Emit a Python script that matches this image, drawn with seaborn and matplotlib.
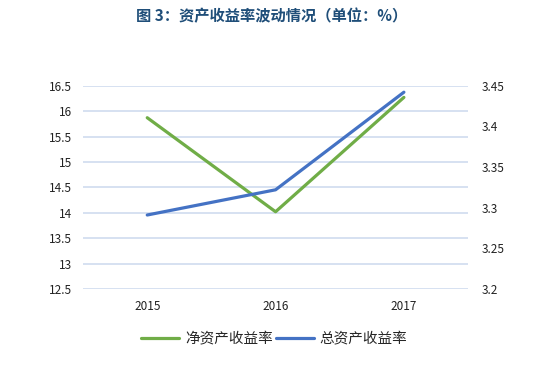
import pandas as pd
import seaborn as sns
import matplotlib.pyplot as plt
from matplotlib.lines import Line2D

# values
years = ['2015', '2016', '2017']
roe = [15.87, 14.02, 16.27]      # 净资产收益率 (left axis)
roa = [3.291, 3.322, 3.442]      # 总资产收益率 (right axis)

left_ticks = [12.5, 13, 13.5, 14, 14.5, 15, 15.5, 16, 16.5]
right_ticks = [3.2, 3.25, 3.3, 3.35, 3.4, 3.45]

sns.set_style('white')
plt.rcParams['font.family'] = ['Noto Sans CJK SC', 'DejaVu Sans']

df = pd.DataFrame({'year': years, 'roe': roe, 'roa': roa})
df['x'] = range(len(years))

green = '#70AD47'
blue = '#4472C4'
grid = '#D6E1F1'

fig = plt.figure(figsize=(5.43, 3.67), dpi=100)
ax = fig.add_axes([0.153, 0.2125, 0.709, 0.554])
ax2 = ax.twinx()

sns.lineplot(data=df, x='x', y='roe', ax=ax, color=green, linewidth=2.3)
sns.lineplot(data=df, x='x', y='roa', ax=ax2, color=blue, linewidth=2.3)

ax.set_xlim(-0.5, len(years) - 0.5)
ax.set_ylim(12.5, 16.5)
ax2.set_ylim(3.2, 3.45)
ax.set_yticks(left_ticks)
ax.set_yticklabels([f'{v:g}' for v in left_ticks])
ax2.set_yticks(right_ticks)
ax2.set_yticklabels([f'{v:g}' for v in right_ticks])
ax.set_xticks(df['x'])
ax.set_xticklabels(years)

for a in (ax, ax2):
    for s in a.spines.values():
        s.set_visible(False)
    a.set_xlabel('')
    a.set_ylabel('')
    a.tick_params(length=0, labelsize=8.5, colors='#222222')
ax.tick_params(axis='y', pad=8)
ax2.tick_params(axis='y', pad=10)
ax.tick_params(axis='x', pad=8)

ax.grid(axis='y', color=grid, linewidth=1.4)
ax.set_axisbelow(True)

fig.text(0.5, 0.955, '图 3：资产收益率波动情况（单位：%）', ha='center', va='center',
         fontsize=11, fontweight='bold', color='#1F4E79')

handles = [Line2D([], [], color=green, linewidth=2.3),
           Line2D([], [], color=blue, linewidth=2.3)]
fig.legend(handles, ['净资产收益率', '总资产收益率'], loc='center',
           bbox_to_anchor=(0.505, 0.075), ncol=2, frameon=False, fontsize=10.5,
           handlelength=2.6, columnspacing=0.2, handletextpad=0.4)

fig.savefig('out.png', dpi=100)
